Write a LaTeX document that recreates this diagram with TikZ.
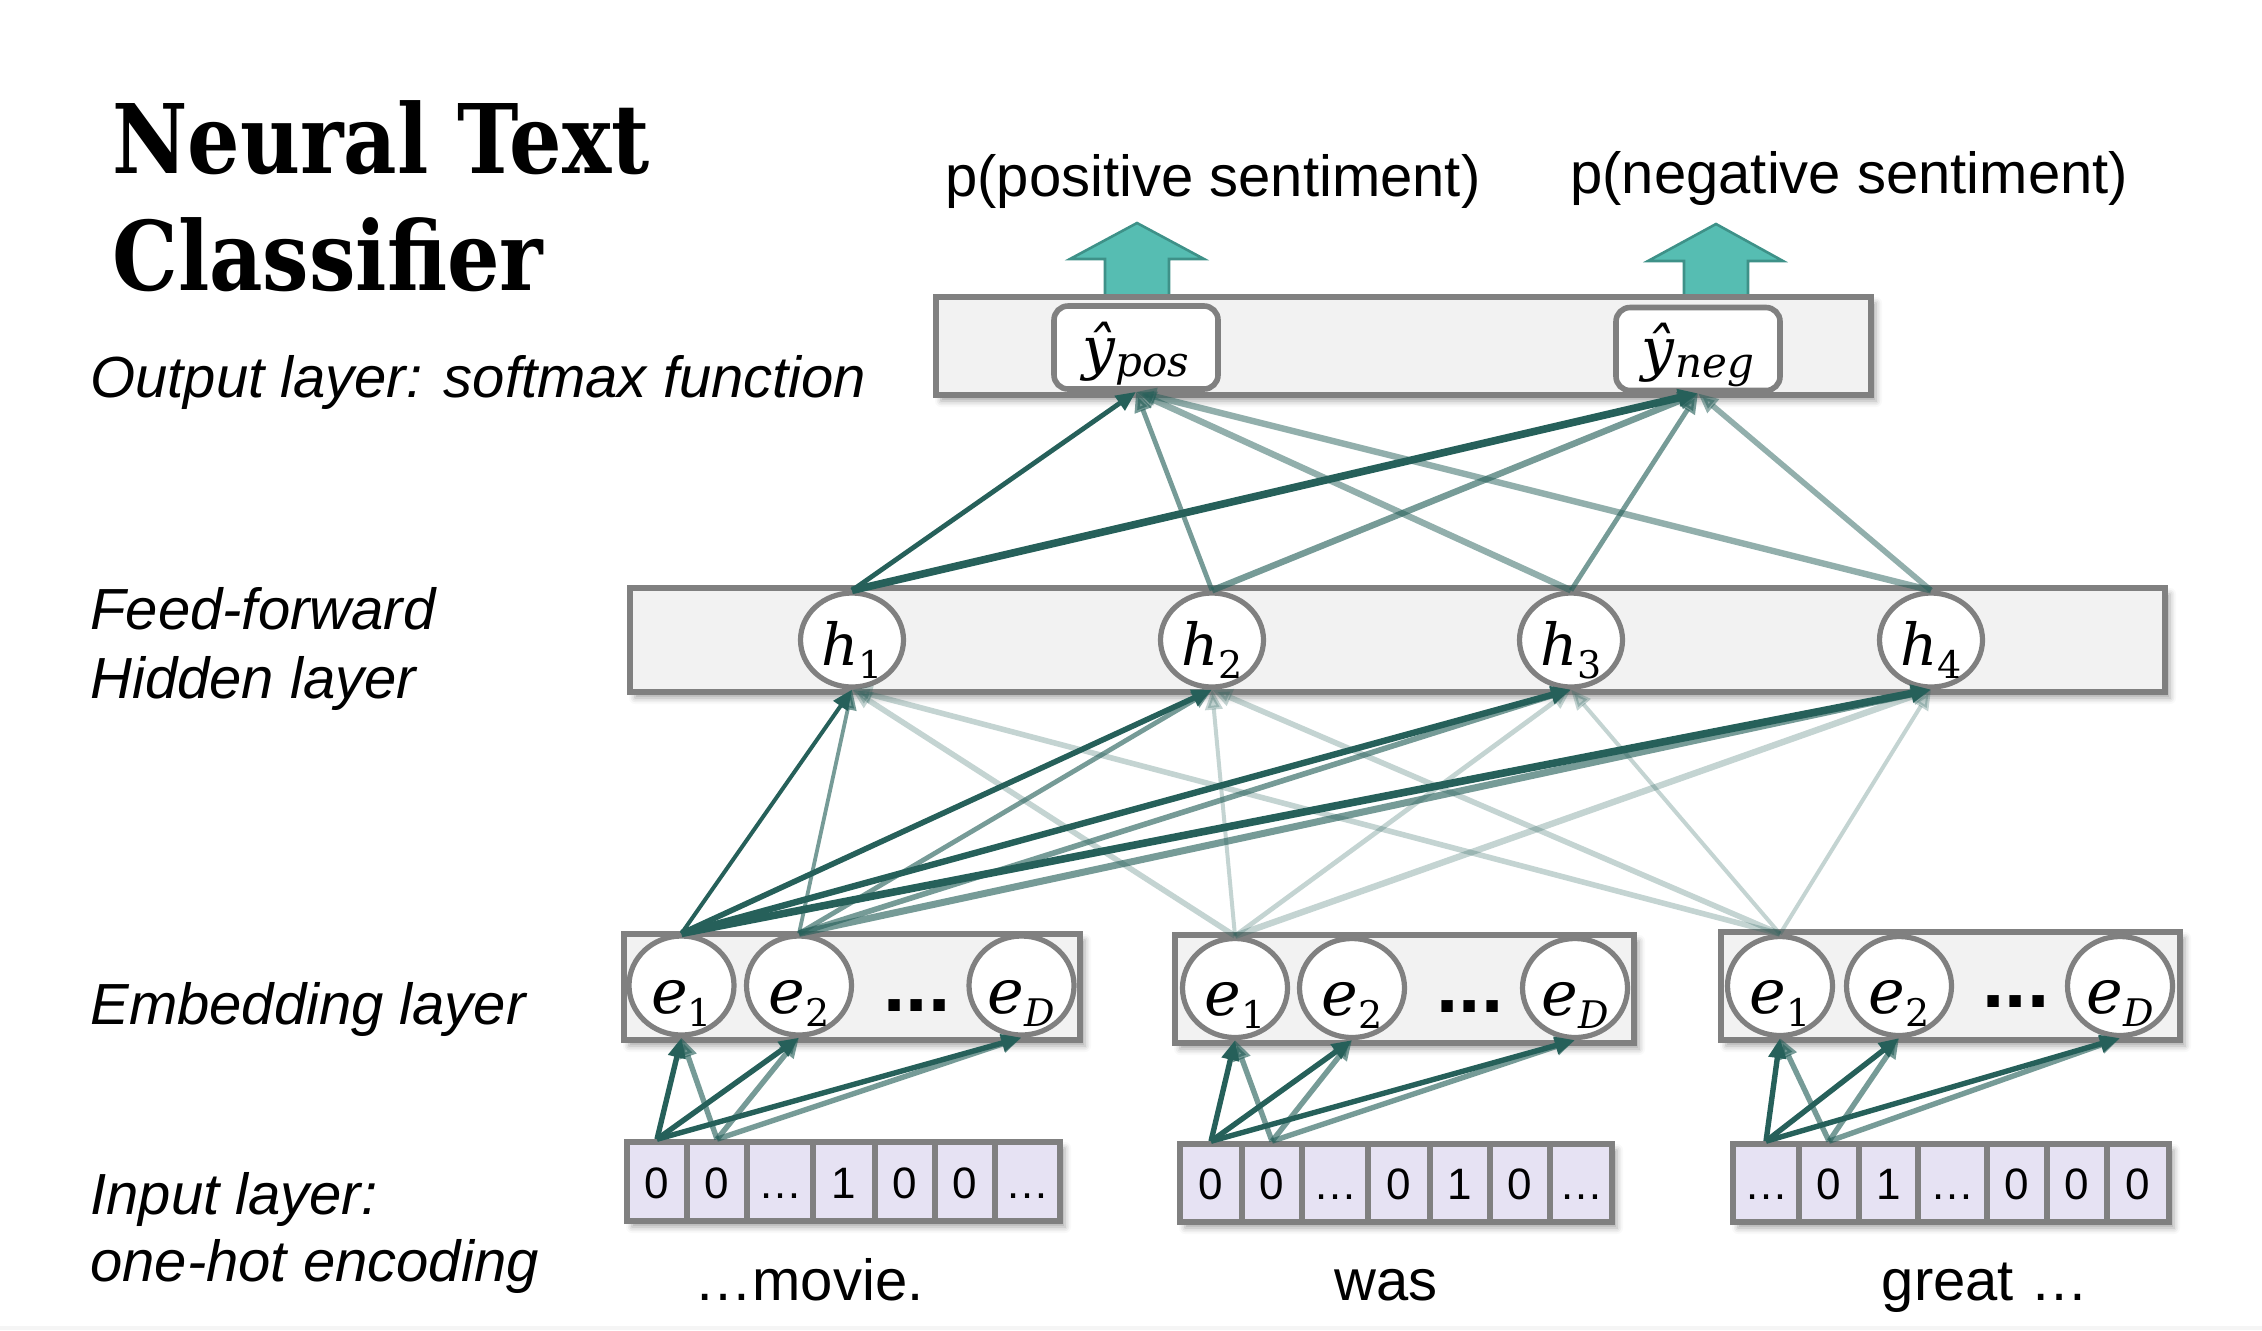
\documentclass[tikz,border=0pt]{standalone}
\usepackage[no-math]{fontspec}
\setmainfont{Liberation Sans}
\newfontfamily\titlefont[FakeStretch=0.86]{DejaVu Serif}
\newfontfamily\mfont{DejaVu Serif}
\newcommand\lsub[3]{\raisebox{-#1}{\fontsize{#2}{#2}\selectfont #3}}
\usetikzlibrary{arrows.meta,shapes.geometric,shadows.blur}
\definecolor{boxgray}{RGB}{128,128,128}
\definecolor{boxfill}{RGB}{242,242,242}
\definecolor{cellfill}{RGB}{230,226,243}
\definecolor{tealfill}{RGB}{86,189,178}
\definecolor{tealedge}{RGB}{62,145,136}
\definecolor{edgeteal}{RGB}{38,96,90}
\tikzset{
  softshadow/.style={blur shadow={shadow xshift=2.5pt,shadow yshift=-3pt,shadow blur radius=3pt,shadow opacity=35}},
  layerbox/.style={rectangle,draw=boxgray,fill=boxfill,line width=2.8pt,inner sep=0pt,softshadow},
  unitnode/.style={ellipse,draw=boxgray,fill=white,line width=2.6pt,inner sep=0pt,
    minimum width=52.5pt,minimum height=49.5pt,text height=27.5pt,text depth=0pt,font=\mfont\fontsize{31}{31}\selectfont},
  hnode/.style={ellipse,draw=boxgray,fill=white,line width=2.6pt,inner sep=0pt,
    minimum width=51.5pt,minimum height=47pt,text height=25pt,text depth=0pt,font=\mfont\fontsize{29}{29}\selectfont},
  ynode/.style={rectangle,rounded corners=7pt,draw=boxgray,fill=white,line width=2.8pt,inner sep=0pt,
    minimum width=82pt,minimum height=41.5pt,text height=20.5pt,text depth=0pt,font=\mfont\fontsize{29}{29}\selectfont},
  inbg/.style={rectangle,draw=boxgray,fill=cellfill,line width=2.8pt,inner sep=0pt,softshadow},
  cellnode/.style={rectangle,draw=boxgray,fill=cellfill,line width=2.8pt,inner sep=0pt,
    text height=16.5pt,text depth=0pt,font=\fontsize{22}{22}\selectfont},
  lbl/.style={anchor=base west,inner sep=0pt,font=\itshape\fontsize{29}{29}\selectfont},
  plain/.style={inner sep=0pt,font=\fontsize{29}{29}\selectfont},
  dotsnode/.style={anchor=base,inner sep=0pt,font=\bfseries\fontsize{40}{40}\selectfont},
  bigarrow/.style={fill=tealfill,draw=tealedge,line width=1.3pt,line join=miter},
  edgearrow/.style={draw=edgeteal,-{Triangle[length=10pt,width=8.5pt]}},
  dk/.style={opacity=1}, md/.style={opacity=0.63}, hm/.style={opacity=0.5}, lt/.style={opacity=0.27}
}
\newcommand\elab[1]{\textit{e}\lsub{6.5pt}{19}{#1}}
\newcommand\hlab[1]{\textit{h}\lsub{6.5pt}{19}{#1}}
\begin{document}
\begin{tikzpicture}[x=0.5pt,y=-0.5pt]
\useasboundingbox (0,0) rectangle (2262,1330);
\fill[gray!8] (0,1326) rectangle (2262,1330);

% title and labels
\node[anchor=base west,inner sep=0pt,font=\titlefont\bfseries\fontsize{48}{48}\selectfont] (title1) at (112,173) {Neural Text};
\node[anchor=base west,inner sep=0pt,font=\titlefont\bfseries\fontsize{48}{48}\selectfont] (title2) at (112,290) {Classifier};
\node[lbl] (lout) at (90,397) {Output layer: softmax function};
\node[lbl] (lhid1) at (90,629) {Feed-forward};
\node[lbl] (lhid2) at (90,698) {Hidden layer};
\node[lbl] (lemb) at (90,1024) {Embedding layer};
\node[lbl] (lin1) at (90,1214) {Input layer:};
\node[lbl] (lin2) at (90,1281) {one-hot encoding};

\node[plain,anchor=base west] (ppos) at (945,196) {p(positive sentiment)};
\node[plain,anchor=base west] (pneg) at (1570,193) {p(negative sentiment)};

% big teal arrows
\draw[bigarrow] (1105,296) -- (1105,259) -- (1070,259) -- (1137,223) -- (1204,259) -- (1169,259) -- (1169,296) -- cycle;
\draw[bigarrow] (1684,298) -- (1684,261) -- (1648,261) -- (1716,224) -- (1783,261) -- (1748,261) -- (1748,298) -- cycle;

% output layer
\node[layerbox,minimum width=467.5pt,minimum height=49pt] (outbox) at (1403.5,346) {};
\node[ynode] (ypos) at (1136,347.5) {\textit{ŷ}\lsub{4pt}{21}{\textit{pos}}};
\node[ynode] (yneg) at (1698,349) {\textit{ŷ}\lsub{4pt}{21}{\textit{neg}}};

% hidden layer
\node[layerbox,minimum width=767.5pt,minimum height=52pt] (hidbox) at (1397.5,640) {};
\node[hnode] (h1) at (852,640) {\hlab{1}};
\node[hnode] (h2) at (1212,640) {\hlab{2}};
\node[hnode] (h3) at (1571,640) {\hlab{3}};
\node[hnode] (h4) at (1931,640) {\hlab{4}};

% embedding layers
\node[layerbox,minimum width=228pt,minimum height=53pt] (emb1) at (852,987) {};
\node[layerbox,minimum width=229.5pt,minimum height=54pt] (emb2) at (1404.5,989) {};
\node[layerbox,minimum width=229.5pt,minimum height=54pt] (emb3) at (1950.5,986) {};

\node[unitnode] (e1-1) at (681.5,985.5) {\elab{1}};
\node[unitnode] (e1-2) at (799,985.5) {\elab{2}};
\node[unitnode] (e1-D) at (1021.5,985.5) {\elab{\textit{D}}};
\node[dotsnode] (dots1) at (917,1011) {...};

\node[unitnode] (e2-1) at (1235,988) {\elab{1}};
\node[unitnode] (e2-2) at (1352,988) {\elab{2}};
\node[unitnode] (e2-D) at (1575,988) {\elab{\textit{D}}};
\node[dotsnode] (dots2) at (1470,1012) {...};

\node[unitnode] (e3-1) at (1780,986) {\elab{1}};
\node[unitnode] (e3-2) at (1899,986) {\elab{2}};
\node[unitnode] (e3-D) at (2120,986) {\elab{\textit{D}}};
\node[dotsnode] (dots3) at (2016,1007) {...};

% input layers
\node[inbg,minimum width=216.5pt,minimum height=39.5pt] (in1) at (843.5,1181.5) {};
\node[inbg,minimum width=216pt,minimum height=39pt] (in2) at (1396,1183) {};
\node[inbg,minimum width=218pt,minimum height=39pt] (in3) at (1951,1183) {};
\foreach \i/\xa/\xb/\t in {1/627/687/0,2/687/747/0,3/747/813/…,4/813/875/1,5/875/935/0,6/935/995/0,7/995/1060/…}
  \node[cellnode,minimum width={(\xb-\xa)*0.5pt},minimum height=39.5pt] (c1-\i) at ({(\xa+\xb)/2},1181.5) {\t};
\foreach \i/\xa/\xb/\t in {1/1180/1242/0,2/1242/1302/0,3/1302/1368/…,4/1368/1430/0,5/1430/1490/1,6/1490/1550/0,7/1550/1612/…}
  \node[cellnode,minimum width={(\xb-\xa)*0.5pt},minimum height=39pt] (c2-\i) at ({(\xa+\xb)/2},1183) {\t};
\foreach \i/\xa/\xb/\t in {1/1733/1799/…,2/1799/1859/0,3/1859/1918/1,4/1918/1987/…,5/1987/2047/0,6/2047/2107/0,7/2107/2169/0}
  \node[cellnode,minimum width={(\xb-\xa)*0.5pt},minimum height=39pt] (c3-\i) at ({(\xa+\xb)/2},1183) {\t};

% words
\node[plain,anchor=base] (w1) at (809,1300) {…movie.};
\node[plain,anchor=base] (w2) at (1386,1300) {was};
\node[plain,anchor=base] (w3) at (1985,1300) {great …};

% embedding -> hidden
\draw[edgearrow,dk,line width=2pt] (e1-1.north) -- (h1.south);
\draw[edgearrow,dk,line width=2.8pt] (e1-1.north) -- (h2.south);
\draw[edgearrow,dk,line width=3.2pt] (e1-1.north) -- (h3.south);
\draw[edgearrow,dk,line width=3.8pt] (e1-1.north) -- (h4.south);
\draw[edgearrow,md,line width=1.9pt] (e1-2.north) -- (h1.south);
\draw[edgearrow,md,line width=2.4pt] (e1-2.north) -- (h2.south);
\draw[edgearrow,md,line width=2.8pt] (e1-2.north) -- (h3.south);
\draw[edgearrow,md,line width=3.5pt] (e1-2.north) -- (h4.south);
\draw[edgearrow,lt,line width=2.8pt] (e2-1.north) -- (h1.south);
\draw[edgearrow,lt,line width=2pt] (e2-1.north) -- (h2.south);
\draw[edgearrow,lt,line width=2.4pt] (e2-1.north) -- (h3.south);
\draw[edgearrow,lt,line width=3.2pt] (e2-1.north) -- (h4.south);
\draw[edgearrow,lt,line width=2.8pt] (e3-1.north) -- (h1.south);
\draw[edgearrow,lt,line width=2.8pt] (e3-1.north) -- (h2.south);
\draw[edgearrow,lt,line width=2pt] (e3-1.north) -- (h3.south);
\draw[edgearrow,lt,line width=2pt] (e3-1.north) -- (h4.south);

% hidden -> output
\draw[edgearrow,dk,line width=2.4pt] (h1.north) -- (ypos.south);
\draw[edgearrow,dk,line width=3.8pt] (h1.north) -- (yneg.south);
\draw[edgearrow,md,line width=2.4pt] (h2.north) -- (ypos.south);
\draw[edgearrow,md,line width=3.2pt] (h2.north) -- (yneg.south);
\draw[edgearrow,hm,line width=3.2pt] (h3.north) -- (ypos.south);
\draw[edgearrow,md,line width=2.4pt] (h3.north) -- (yneg.south);
\draw[edgearrow,hm,line width=3.2pt] (h4.north) -- (ypos.south);
\draw[edgearrow,hm,line width=2.8pt] (h4.north) -- (yneg.south);

% input -> embedding
\foreach \g in {1,2,3}{
  \draw[edgearrow,dk,line width=2.7pt] (c\g-1.north) -- (e\g-1.south);
  \draw[edgearrow,dk,line width=2.7pt] (c\g-1.north) -- (e\g-2.south);
  \draw[edgearrow,dk,line width=2.7pt] (c\g-1.north) -- (e\g-D.south);
  \draw[edgearrow,md,line width=2.7pt] (c\g-2.north) -- (e\g-1.south);
  \draw[edgearrow,md,line width=2.7pt] (c\g-2.north) -- (e\g-2.south);
  \draw[edgearrow,md,line width=2.7pt] (c\g-2.north) -- (e\g-D.south);
}
\end{tikzpicture}
\end{document}
